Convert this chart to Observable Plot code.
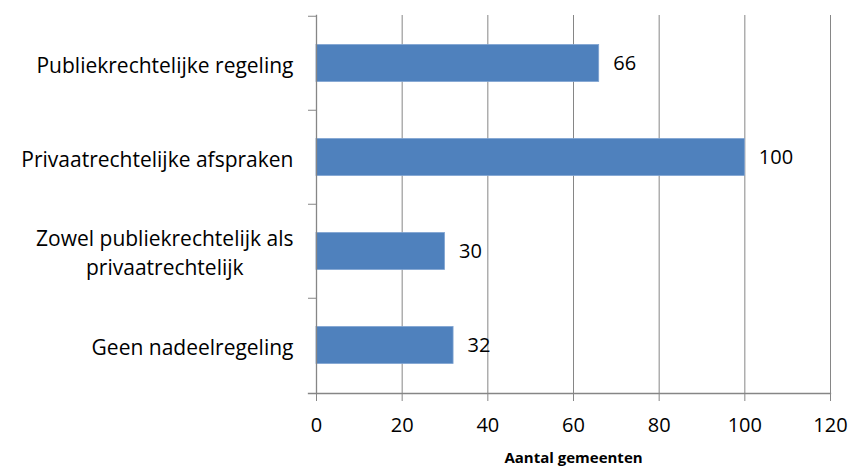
<!DOCTYPE html>
<html>
<head>
<meta charset="utf-8">
<script src="https://cdn.jsdelivr.net/npm/d3@7"></script>
<script src="https://cdn.jsdelivr.net/npm/@observablehq/plot@0.6"></script>
<style>
  html, body { margin: 0; padding: 0; background: #fff; }
  #chart svg { display: block; }
</style>
</head>
<body>
<div id="chart"></div>
<script>
const categories = [
  "Publiekrechtelijke regeling",
  "Privaatrechtelijke afspraken",
  "Zowel publiekrechtelijk als\nprivaatrechtelijk",
  "Geen nadeelregeling"
];
const values = [66, 100, 30, 32];
const xTicks = [0, 20, 40, 60, 80, 100, 120];
const xTitle = "Aantal gemeenten";

const data = categories.map((c, i) => ({category: c, value: values[i]}));

const FONT = "'Open Sans', Lato, sans-serif";
const GRID = "#868686";

const chart = Plot.plot({
  width: 851,
  height: 468,
  marginTop: 15,
  marginBottom: 75,
  marginLeft: 316,
  marginRight: 21,
  style: {fontFamily: FONT, background: "#fff", color: "#000"},
  x: {domain: [0, 120], ticks: xTicks},
  y: {domain: categories, padding: 0},
  marks: [
    Plot.gridX(xTicks, {stroke: GRID, strokeOpacity: 1, strokeWidth: 1}),
    Plot.barX(data, {
      x: "value", y: "category",
      fill: "#4F81BD", stroke: "#7FA3D1", strokeWidth: 0.8,
      insetTop: 28.5, insetBottom: 28.5
    }),
    Plot.text(data, {
      x: "value", y: "category", text: d => String(d.value),
      textAnchor: "start", dx: 14, fontSize: 20, fill: "#000"
    }),
    Plot.frame({anchor: "left", stroke: GRID, strokeWidth: 1.3}),
    Plot.frame({anchor: "bottom", stroke: GRID, strokeWidth: 1.3, insetLeft: -8}),
    Plot.axisX({
      ticks: xTicks, tickSize: 8, stroke: GRID, tickPadding: 16,
      fontSize: 20, label: null, color: "#000"
    }),
    Plot.axisY({
      tickSize: 8, stroke: GRID, dy: -47.25, text: null, label: null
    }),
    Plot.axisY({
      tickSize: 0, tickPadding: 23, fontSize: 21, label: null,
      lineHeight: 1.35, color: "#000"
    }),
    Plot.text([xTitle], {
      frameAnchor: "bottom", lineAnchor: "bottom", dy: 69,
      fontWeight: "bold", fontSize: 15, fill: "#000"
    })
  ]
});

document.getElementById("chart").appendChild(chart);

// center multi-line y labels within their (right-aligned) block
chart.querySelectorAll("text").forEach(t => {
  const spans = t.querySelectorAll("tspan");
  const anchor = t.getAttribute("text-anchor") || getComputedStyle(t).textAnchor;
  if (spans.length > 1 && anchor === "end") {
    let w = 0;
    spans.forEach(s => { w = Math.max(w, s.getComputedTextLength()); });
    t.setAttribute("text-anchor", "middle");
    spans.forEach(s => s.setAttribute("x", String(-w / 2 + (+s.getAttribute("x") || 0))));
  }
});
</script>
</body>
</html>
